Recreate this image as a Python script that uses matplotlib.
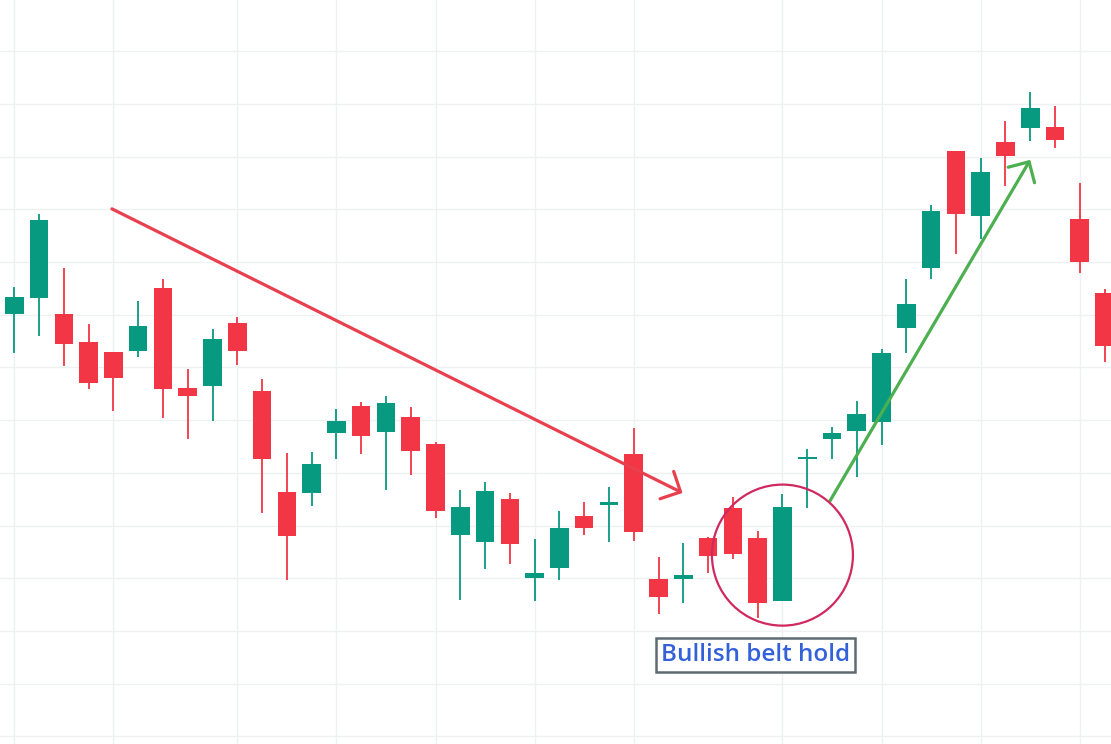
import matplotlib
matplotlib.use('Agg')
import matplotlib.pyplot as plt
from matplotlib.patches import FancyArrowPatch, Ellipse
import numpy as np

# candle data (open, high, low, close), one per bar
opens = [180.2, 183.1, 180.2, 174.8, 172.9, 173.2, 185.1, 166.1, 166.5, 178.4,
         165.5, 146.4, 146.2, 157.6, 162.7, 157.8, 160.6, 155.5, 138.3, 136.9,
         145.0, 130.1, 132.0, 141.8, 144.0, 153.6, 129.9, 129.8, 137.6, 143.3,
         137.6, 125.7, 152.6, 156.5, 158.0, 159.7, 177.4, 188.9, 211.1, 198.8,
         212.8, 215.5, 215.6, 198.2, 184.1]
highs = [185.3, 199.1, 188.8, 178.3, 172.9, 182.6, 186.8, 169.7, 177.3, 179.6,
         167.8, 153.7, 154.0, 162.1, 163.5, 164.6, 162.5, 155.9, 146.8, 148.3,
         146.2, 137.5, 142.8, 144.5, 147.3, 158.5, 134.0, 136.7, 137.8, 145.4,
         139.0, 146.0, 154.5, 158.7, 163.6, 173.6, 186.8, 200.8, 211.1, 209.8,
         216.8, 222.3, 219.6, 205.0, 184.8]
lows = [172.8, 176.0, 170.2, 166.0, 161.8, 171.9, 160.5, 156.5, 159.9, 170.5,
        142.4, 129.7, 143.8, 152.7, 153.5, 146.8, 149.6, 141.5, 125.9, 131.8,
        132.8, 125.6, 129.7, 138.3, 136.8, 137.1, 123.2, 125.3, 131.1, 133.7,
        122.5, 125.7, 143.4, 152.7, 149.3, 155.2, 172.8, 186.7, 191.6, 194.4,
        204.4, 213.0, 211.7, 188.0, 171.1]
closes = [183.3, 198.0, 174.5, 167.1, 168.1, 177.9, 166.0, 164.5, 175.4, 173.2,
          152.7, 138.1, 151.7, 159.8, 157.0, 163.3, 154.2, 142.8, 143.5, 146.6,
          136.6, 131.1, 139.5, 139.6, 144.5, 138.7, 126.5, 130.6, 134.3, 134.7,
          125.4, 143.5, 153.0, 157.6, 161.2, 172.8, 182.0, 199.7, 199.2, 207.1,
          210.1, 219.2, 213.2, 190.1, 174.1]

# bars where the vertical grid lines fall
grid_bars = [0, 4, 9, 13, 17, 21, 25, 31, 35, 39, 43]
price_grid = np.arange(100, 240, 10)

# annotations
trend_down = [(3.94, 200.1), (26.97, 146.2)]
trend_up = [(32.92, 144.7), (41.0, 209.4)]
pattern_bar = 31
pattern_level = 134.4
label_pos = (29.93, 115.4)
label_text = 'Bullish belt hold'

up_col = '#089981'
down_col = '#F23645'

fig = plt.figure(figsize=(11.11, 7.44), dpi=100)
ax = fig.add_axes([0, 0, 1, 1])

x = np.arange(len(opens))
o = np.array(opens)
h = np.array(highs)
l = np.array(lows)
c = np.array(closes)
cols = [up_col if cc >= oo else down_col for oo, cc in zip(o, c)]

ax.vlines(x, l, h, colors=cols, lw=1.3, zorder=2)
ax.bar(x, np.abs(c - o), bottom=np.minimum(o, c), width=0.75, color=cols,
       linewidth=0, zorder=3)

ax.set_xlim(-0.577, 44.26)
ax.set_ylim(98.56, 239.73)
ax.set_xticks(grid_bars)
ax.set_yticks(price_grid)
ax.grid(True, color='#eef0f2', lw=1.0, zorder=0)
ax.set_axisbelow(True)
ax.tick_params(length=0, labelbottom=False, labelleft=False)
for s in ax.spines.values():
    s.set_visible(False)

a1 = FancyArrowPatch(trend_down[0], trend_down[1],
                     arrowstyle='->,head_length=0.55,head_width=0.55',
                     mutation_scale=20, color='#e8404e', lw=2.3,
                     shrinkA=0, shrinkB=0, zorder=5)
ax.add_patch(a1)
a2 = FancyArrowPatch(trend_up[0], trend_up[1],
                     arrowstyle='->,head_length=0.55,head_width=0.55',
                     mutation_scale=20, color='#4caf50', lw=2.3,
                     shrinkA=0, shrinkB=0, zorder=5)
ax.add_patch(a2)

circ = Ellipse((pattern_bar, pattern_level), width=5.69, height=26.76,
               fill=False, edgecolor='#d0295f', lw=1.6, zorder=5)
ax.add_patch(circ)

ax.text(label_pos[0], label_pos[1], label_text, ha='center', va='center',
        fontsize=17.5, family='Open Sans', weight='semibold', color='#3461d9',
        zorder=6,
        bbox=dict(boxstyle='square,pad=0.2', facecolor='white',
                  edgecolor='#5f6b73', lw=1.8))

fig.savefig('out.png', dpi=100)
